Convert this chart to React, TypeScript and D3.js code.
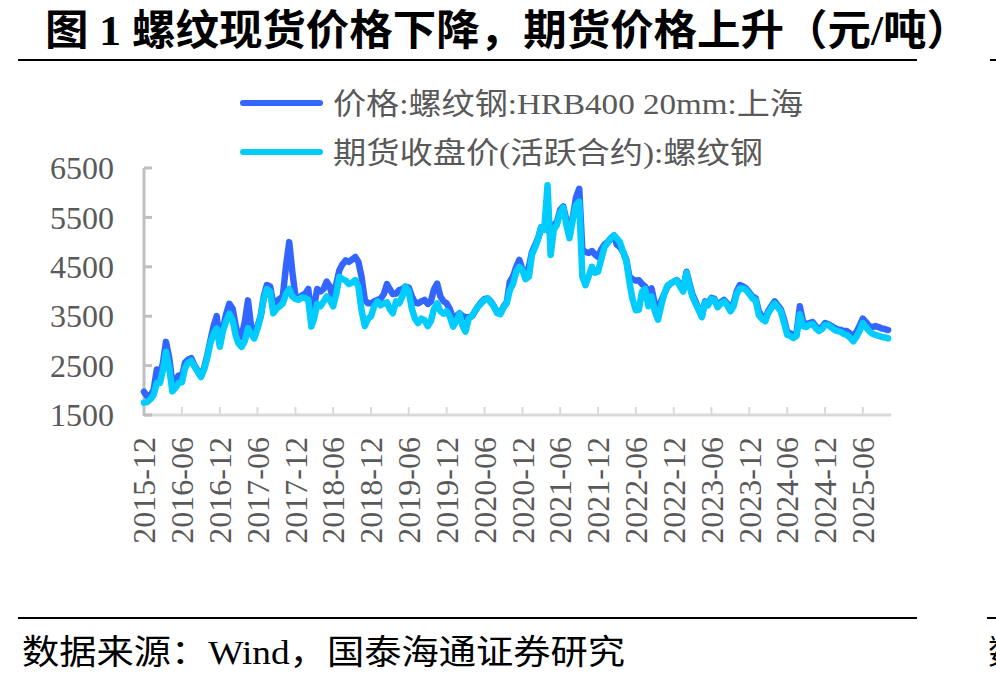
import React from 'react';
import * as d3 from 'd3';

// semi-monthly observations (1st and 16th), starting 2015-12-01
const spotPrice = [
  1970, 1880, // 2015
  1900, 2000, 2420, 2300, 2550, 2980, 2650, 2150, 2200, 2300, 2280, 2560, 2620, 2650, 2500, 2400, 2280, 2450, 2700, 3000, 3300, 3500, 2950, 3250, // 2016
  3550, 3750, 3650, 3300, 3100, 3080, 3400, 3820, 3300, 3100, 3300, 3500, 3900, 4130, 4100, 3760, 3800, 3850, 3900, 4500, 5000, 4400, 3900, 3880, // 2017
  3920, 3950, 4050, 3500, 3700, 4050, 4000, 4050, 4200, 4100, 3850, 4150, 4430, 4550, 4630, 4600, 4650, 4700, 4600, 4300, 3830, 3760, 3760, 3800, // 2018
  3830, 3850, 3950, 4150, 4050, 3950, 3960, 4030, 4050, 4100, 4080, 3900, 3780, 3760, 3800, 3830, 3750, 3800, 4050, 4160, 3900, 3800, 3760, 3650, // 2019
  3450, 3500, 3560, 3500, 3480, 3480, 3500, 3600, 3700, 3780, 3850, 3860, 3800, 3700, 3580, 3560, 3700, 3780, 4200, 4300, 4500, 4640, 4440, 4350, // 2020
  4500, 4800, 4950, 5100, 5300, 5250, 5300, 5150, 5350, 5400, 5650, 5720, 5450, 5200, 5500, 5900, 6080, 4850, 4800, 4780, 4820, 4750, 4700, 4850, // 2021
  4950, 5000, 5080, 5130, 4950, 4900, 4800, 4650, 4300, 4250, 4220, 4230, 4150, 4100, 4000, 4060, 3750, 3500, 3800, 3950, 4100, 4160, 4200, 4230, // 2022
  4150, 4050, 4400, 4150, 3950, 3800, 3640, 3500, 3800, 3760, 3870, 3850, 3700, 3780, 3830, 3760, 3640, 3760, 4000, 4130, 4100, 4060, 3980, 3900, // 2023
  3860, 3600, 3480, 3430, 3600, 3700, 3800, 3720, 3640, 3450, 3180, 3150, 3120, 3150, 3700, 3400, 3320, 3360, 3380, 3300, 3240, 3280, 3360, 3340, // 2024
  3300, 3260, 3230, 3220, 3200, 3200, 3150, 3100, 3180, 3300, 3450, 3380, 3300, 3280, 3300, 3280, 3250, 3240, 3220, // 2025
];

const futuresPrice = [
  1750, 1760, // 2015
  1820, 1900, 2150, 2150, 2400, 2780, 2450, 1980, 2050, 2150, 2160, 2450, 2560, 2600, 2480, 2380, 2270, 2420, 2650, 2950, 3150, 3250, 2880, 3200, // 2016
  3400, 3550, 3420, 3100, 2950, 2880, 3000, 3260, 3150, 3050, 3250, 3480, 3850, 4050, 4000, 3560, 3650, 3700, 3760, 3950, 4050, 3900, 3850, 3830, // 2017
  3880, 3870, 3830, 3290, 3450, 3750, 3700, 3800, 3900, 3830, 3700, 3950, 4300, 4250, 4220, 4150, 4180, 4230, 4100, 3620, 3300, 3450, 3500, 3700, // 2018
  3800, 3720, 3760, 3780, 3650, 3560, 3800, 3760, 3900, 4100, 4000, 3650, 3450, 3360, 3450, 3420, 3300, 3400, 3650, 3760, 3600, 3550, 3600, 3500, // 2019
  3290, 3400, 3550, 3300, 3190, 3450, 3500, 3600, 3700, 3760, 3830, 3860, 3780, 3700, 3560, 3540, 3680, 3760, 4030, 4150, 4400, 4500, 4430, 4250, // 2020
  4300, 4750, 4900, 5080, 5300, 5250, 6150, 4740, 5250, 5350, 5600, 5700, 5350, 5080, 5450, 5750, 5820, 4300, 4130, 4300, 4500, 4380, 4400, 4650, // 2021
  4900, 4980, 5080, 5140, 5080, 5000, 4800, 4620, 4200, 3850, 3620, 3630, 4000, 4050, 3700, 3900, 3600, 3430, 3700, 3950, 4120, 4160, 4200, 4230, // 2022
  4100, 4000, 4380, 4100, 3900, 3760, 3620, 3480, 3780, 3720, 3850, 3830, 3680, 3750, 3800, 3720, 3600, 3700, 3950, 4060, 4060, 4030, 3950, 3860, // 2023
  3820, 3520, 3440, 3400, 3560, 3660, 3760, 3680, 3600, 3380, 3120, 3100, 3060, 3100, 3540, 3300, 3280, 3330, 3340, 3260, 3200, 3240, 3320, 3320, // 2024
  3270, 3220, 3200, 3180, 3140, 3120, 3060, 2990, 3080, 3200, 3360, 3280, 3200, 3150, 3120, 3100, 3080, 3070, 3050, // 2025
];

const seriesNames = ['价格:螺纹钢:HRB400 20mm:上海', '期货收盘价(活跃合约):螺纹钢'];
const seriesColors = ['#3366FF', '#00CCFF'];
const yTicks = [1500, 2500, 3500, 4500, 5500, 6500];

const title = '图 1 螺纹现货价格下降，期货价格上升（元/吨）';
const source = '数据来源：Wind，国泰海通证券研究';

const serif = "'Liberation Serif', 'Times New Roman', 'Noto Sans CJK SC', serif";

export default function App() {
  const width = 996;
  const height = 685;

  const dates = spotPrice.map((_, i) => new Date(2015, 11 + Math.floor(i / 2), i % 2 ? 16 : 1));

  const x = d3.scaleTime()
    .domain([new Date(2015, 11, 1), new Date(2025, 9, 15)])
    .range([144, 891]);
  const y = d3.scaleLinear()
    .domain([1500, 6500])
    .range([415, 168]);

  const xTicks = d3.timeMonth.range(new Date(2015, 11, 1), new Date(2025, 6, 2), 6);
  const fmt = d3.timeFormat('%Y-%m');

  const line = d3.line<number>()
    .x((_, i) => x(dates[i]))
    .y((d) => y(d));

  const series = [spotPrice, futuresPrice];

  return (
    <div style={{ position: 'absolute', left: 0, top: 0 }}>
      <svg width={width} height={height} style={{ display: 'block', background: '#fff' }}>
        {/* heading */}
        <text x={45} y={45} fontFamily={serif} fontWeight="bold" fontSize={42} fill="#000"
          textLength={925} lengthAdjust="spacingAndGlyphs">{title}</text>
        <line x1={18} x2={917} y1={60} y2={60} stroke="#000" strokeWidth={2} />
        <line x1={990} x2={996} y1={60} y2={60} stroke="#000" strokeWidth={2} />

        {/* legend */}
        {seriesNames.map((name, i) => (
          <g key={name} transform={`translate(0,${103 + i * 49})`}>
            <line x1={243} x2={320} y1={0} y2={0} stroke={seriesColors[i]} strokeWidth={6} strokeLinecap="round" />
            <text x={333} y={11} fontFamily={serif} fontSize={30} fill="#595959"
              textLength={i === 0 ? 470 : 430} lengthAdjust="spacingAndGlyphs">{name}</text>
          </g>
        ))}

        {/* x axis */}
        <line x1={144} x2={891} y1={415} y2={415} stroke="#D9D9D9" strokeWidth={3} />
        {xTicks.map((t) => (
          <g key={+t}>
            <line x1={x(t)} x2={x(t)} y1={415} y2={407} stroke="#D9D9D9" strokeWidth={2} />
            <text transform={`translate(${x(t)},437) rotate(-90)`} dy="0.35em" textAnchor="end"
              fontFamily={serif} fontSize={32} fill="#595959">{fmt(t)}</text>
          </g>
        ))}

        {/* y axis */}
        <line x1={144} x2={144} y1={168} y2={416} stroke="#BFBFBF" strokeWidth={3} />
        {yTicks.map((v) => (
          <g key={v}>
            <line x1={144} x2={152} y1={y(v)} y2={y(v)} stroke="#BFBFBF" strokeWidth={3} />
            <text x={114} y={y(v)} dy="0.35em" textAnchor="end" fontFamily={serif} fontSize={32} fill="#595959">{v}</text>
          </g>
        ))}

        {/* price lines */}
        {series.map((s, i) => (
          <path key={i} d={line(s) || ''} fill="none" stroke={seriesColors[i]} strokeWidth={6.5}
            strokeLinejoin="round" strokeLinecap="round" />
        ))}

        {/* footer */}
        <line x1={18} x2={917} y1={618} y2={618} stroke="#000" strokeWidth={2} />
        <line x1={987} x2={996} y1={618} y2={618} stroke="#000" strokeWidth={2} />
        <text x={22} y={664} fontFamily={serif} fontSize={34} fill="#000"
          textLength={603} lengthAdjust="spacingAndGlyphs">{source}</text>
        <text x={988} y={664} fontFamily={serif} fontSize={34} fill="#000">数</text>
      </svg>
    </div>
  );
}
